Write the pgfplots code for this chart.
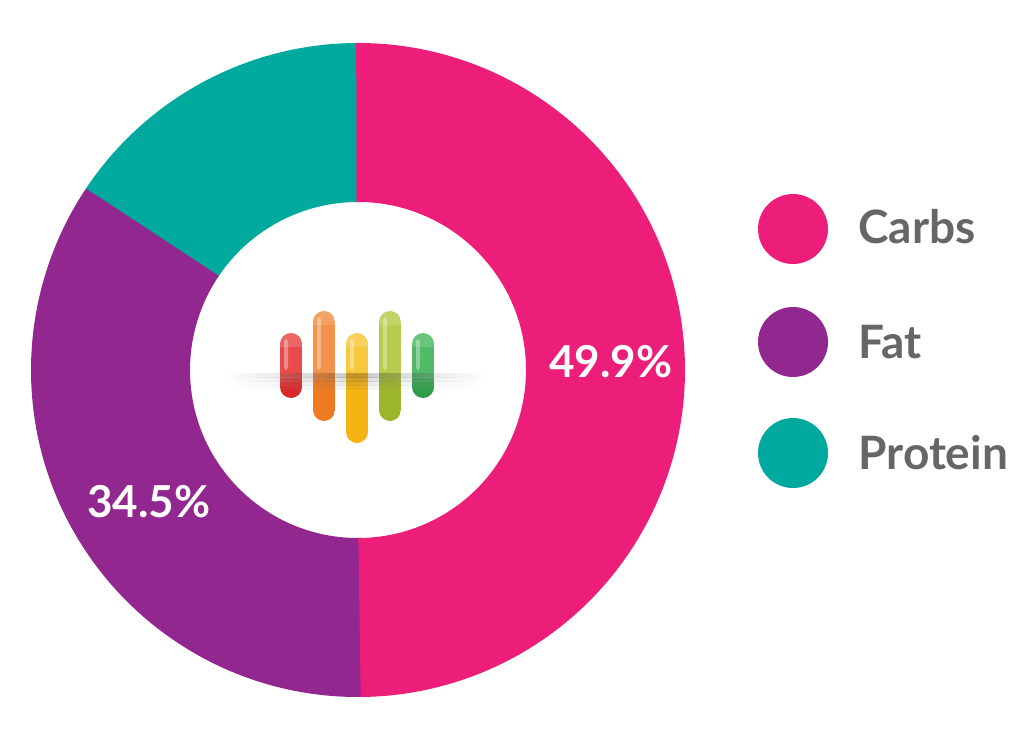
\documentclass[border=0pt]{standalone}
\usepackage{pgfplots}
\pgfplotsset{compat=1.18}
\usepackage{fontspec}
\setmainfont{Lato}
\definecolor{carbs}{HTML}{ED1E79}
\definecolor{fat}{HTML}{92278F}
\definecolor{protein}{HTML}{00A99D}
\definecolor{legtext}{HTML}{666666}
\definecolor{redL}{HTML}{E94B4B}\definecolor{redD}{HTML}{D82A2A}
\definecolor{orgL}{HTML}{F3924A}\definecolor{orgD}{HTML}{EE7A22}
\definecolor{yelL}{HTML}{F7C93F}\definecolor{yelD}{HTML}{F4B414}
\definecolor{ygL}{HTML}{B7CB4E}\definecolor{ygD}{HTML}{9CB62C}
\definecolor{grnL}{HTML}{52BA66}\definecolor{grnD}{HTML}{2F9D47}
% values (percent)
\def\vC{49.9}\def\vF{34.5}\def\vP{15.6}
\newcommand\pill[5]{% x-left, top, bottom, light, dark
  \begin{scope}
    \clip[rounded corners=5.5pt] (axis cs:#1,#2) rectangle (axis cs:#1+22,#3);
    \fill[#4] (axis cs:#1,#2) rectangle (axis cs:#1+22,373);
    \fill[#5] (axis cs:#1,373) rectangle (axis cs:#1+22,#3);
    \fill[white,opacity=0.35,rounded corners=1.5pt] (axis cs:#1+4,#2-6) rectangle (axis cs:#1+8,376);
    \fill[white,opacity=0.15] (axis cs:#1,#2) rectangle (axis cs:#1+22,#2-14);
  \end{scope}}
\begin{document}
\begin{tikzpicture}
\pgfmathsetmacro{\aA}{90-3.6*\vC}
\pgfmathsetmacro{\aB}{\aA-3.6*\vF}
\pgfmathsetmacro{\aC}{\aB-3.6*\vP}
\begin{axis}[x=0.5pt,y=0.5pt,xmin=0,xmax=1021,ymin=0,ymax=746,
  hide axis,clip=false]
\path (axis cs:0,0) rectangle (axis cs:1021,746);
% donut
\draw[line width=79.5pt,protein] (axis cs:358,376) ++(\aB+0.4:123.75pt) arc[start angle=\aB+0.4,end angle=\aC,radius=123.75pt];
\draw[line width=79.5pt,fat] (axis cs:358,376) ++(\aA+0.4:123.75pt) arc[start angle=\aA+0.4,end angle=\aB,radius=123.75pt];
\draw[line width=79.5pt,carbs] (axis cs:358,376) ++(90.4:123.75pt) arc[start angle=90.4,end angle=\aA,radius=123.75pt];
% logo pills
\pill{280}{413}{348}{redL}{redD}
\pill{313}{435}{325}{orgL}{orgD}
\pill{346}{413}{303}{yelL}{yelD}
\pill{379}{435}{325}{ygL}{ygD}
\pill{412}{413}{348}{grnL}{grnD}
% soft shadow band below the reflection line
\shade[left color=white,right color=white,middle color=black!70,opacity=0.30] (axis cs:225,373) rectangle (axis cs:485,369);
\shade[left color=white,right color=white,middle color=black!70,opacity=0.20] (axis cs:225,369) rectangle (axis cs:485,365);
\shade[left color=white,right color=white,middle color=black!70,opacity=0.12] (axis cs:225,365) rectangle (axis cs:485,361);
\shade[left color=white,right color=white,middle color=black!70,opacity=0.06] (axis cs:225,361) rectangle (axis cs:485,357);
% slice labels
\node[anchor=base,white,font=\fontsize{22}{26}\selectfont\bfseries] at (axis cs:611,369) {49.9\%};
\node[anchor=base,white,font=\fontsize{22}{26}\selectfont\bfseries] at (axis cs:149,229) {34.5\%};
% legend
\fill[carbs] (axis cs:793,517) circle[radius=17.5pt];
\fill[fat] (axis cs:793,404) circle[radius=17.5pt];
\fill[protein] (axis cs:793,293) circle[radius=17.5pt];
\node[anchor=base west,inner sep=0pt,legtext,font=\fontsize{23}{27}\selectfont\bfseries] at (axis cs:858,503) {Carbs};
\node[anchor=base west,inner sep=0pt,legtext,font=\fontsize{23}{27}\selectfont\bfseries] at (axis cs:858,388) {Fat};
\node[anchor=base west,inner sep=0pt,legtext,font=\fontsize{23}{27}\selectfont\bfseries] at (axis cs:858,277) {Protein};
\end{axis}
\end{tikzpicture}
\end{document}
